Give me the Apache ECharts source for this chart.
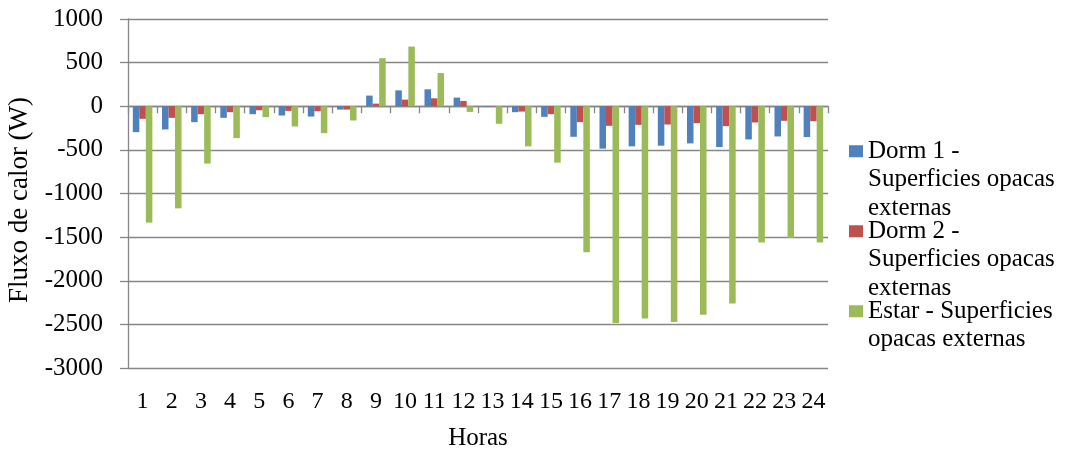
<!DOCTYPE html>
<html>
<head>
<meta charset="utf-8">
<script src="https://cdn.jsdelivr.net/npm/echarts@6/dist/echarts.min.js"></script>
<style>
  html, body { margin: 0; padding: 0; background: #ffffff; }
  #chart { width: 1073px; height: 453px; }
</style>
</head>
<body>
<div id="chart"></div>
<script>
// Hourly heat flux through external opaque surfaces (W)
const horas = ['1','2','3','4','5','6','7','8','9','10','11','12',
               '13','14','15','16','17','18','19','20','21','22','23','24'];

const serieNomes = [
  'Dorm 1 - Superficies opacas externas',
  'Dorm 2 - Superficies opacas externas',
  'Estar - Superficies opacas externas'
];

const dorm1 = [-297, -266, -182, -133, -91, -106, -118, -38, 122, 182, 194, 99,
               -8, -68, -122, -350, -486, -460, -452, -426, -467, -380, -346, -353];
const dorm2 = [-144, -133, -91, -68, -46, -53, -57, -38, 30, 76, 91, 61,
               -4, -61, -91, -182, -224, -213, -209, -194, -228, -186, -167, -171];
const estar = [-1334, -1170, -657, -365, -125, -232, -308, -163, 551, 684, 380, -65,
               -201, -460, -646, -1672, -2485, -2432, -2474, -2390, -2261, -1562, -1509, -1562];

const yTicks = { min: -3000, max: 1000, step: 500 };

const cores = ['#4F81BD', '#C0504D', '#9BBB59'];
const fonte = '"Liberation Serif", "Times New Roman", serif';
const cinza = '#868686';

// Legend labels wrapped; two blank lines on top keep the first line level with the swatch
const legendaTexto = {
  [serieNomes[0]]: '\n\nDorm 1 -\nSuperficies opacas\nexternas',
  [serieNomes[1]]: '\n\nDorm 2 -\nSuperficies opacas\nexternas',
  [serieNomes[2]]: '\n\nEstar - Superficies\nopacas externas\n'
};

const chart = echarts.init(document.getElementById('chart'), null, { renderer: 'canvas' });

const valores = [dorm1, dorm2, estar];

chart.setOption({
  animation: false,
  backgroundColor: '#ffffff',
  textStyle: { fontFamily: fonte, color: '#000' },
  grid: { left: 128, right: 245, top: 19, bottom: 85, containLabel: false, outerBoundsMode: 'none' },
  legend: {
    orient: 'vertical',
    left: 849,
    top: 80,
    padding: 0,
    itemGap: -62.5,
    itemWidth: 14,
    itemHeight: 12,
    icon: 'rect',
    data: serieNomes,
    formatter: n => legendaTexto[n],
    textStyle: {
      fontFamily: fonte,
      fontSize: 25,
      color: '#000',
      lineHeight: 28.5
    }
  },
  xAxis: [
    {
      // category axis drawn across the zero line
      type: 'category',
      data: horas,
      position: 'bottom',
      axisLine: { onZero: true, lineStyle: { color: cinza, width: 1.3 } },
      axisTick: { show: true, interval: 0, length: 7, lineStyle: { color: cinza, width: 1.3 } },
      axisLabel: { show: false },
      splitLine: { show: false }
    },
    {
      // hour labels along the bottom of the plot
      type: 'category',
      data: horas,
      position: 'bottom',
      axisLine: { show: false, onZero: false },
      axisTick: { show: false },
      axisLabel: { show: true, interval: 0, margin: 22, fontSize: 24, fontFamily: fonte, color: '#000' },
      name: 'Horas',
      nameLocation: 'middle',
      nameGap: 58,
      nameTextStyle: { fontSize: 25, fontFamily: fonte, color: '#000' }
    }
  ],
  yAxis: {
    type: 'value',
    min: yTicks.min,
    max: yTicks.max,
    interval: yTicks.step,
    name: 'Fluxo de calor (W)',
    nameLocation: 'middle',
    nameGap: 94,
    nameTextStyle: { fontSize: 27, fontFamily: fonte, color: '#000', padding: [0, 13, 0, 0] },
    axisLine: { show: true, lineStyle: { color: cinza, width: 1.3 } },
    axisTick: { show: true, length: 8, lineStyle: { color: cinza, width: 1.3 } },
    axisLabel: { margin: 25, fontSize: 25, fontFamily: fonte, color: '#000', formatter: v => String(v) },
    splitLine: { show: true, lineStyle: { color: cinza, width: 1.3 } }
  },
  series: serieNomes.map((nome, i) => ({
    name: nome,
    type: 'bar',
    xAxisIndex: 0,
    data: valores[i],
    barGap: '0%',
    barCategoryGap: '33%',
    itemStyle: { color: cores[i] }
  }))
});
</script>
</body>
</html>
